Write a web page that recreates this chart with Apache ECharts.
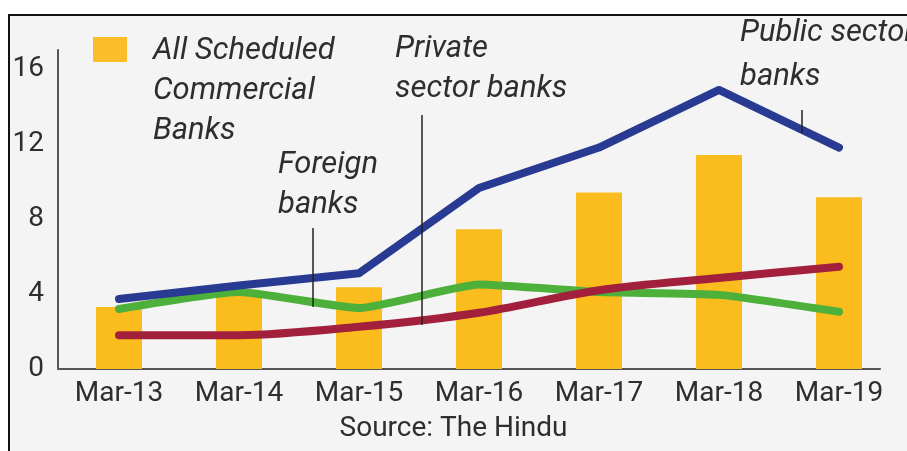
<!DOCTYPE html>
<html>
<head>
<meta charset="utf-8">
<script src="https://cdn.jsdelivr.net/npm/echarts@6/dist/echarts.min.js"></script>
<style>
  html, body { margin: 0; padding: 0; background: #ffffff; }
  #chart { width: 907px; height: 451px; }
</style>
</head>
<body>
<div id="chart"></div>
<script>
// Gross NPA ratio (%) by bank group, March 2013 - March 2019
const categories = ['Mar-13', 'Mar-14', 'Mar-15', 'Mar-16', 'Mar-17', 'Mar-18', 'Mar-19'];
const allScheduled = [3.3, 3.95, 4.35, 7.45, 9.4, 11.4, 9.15];
const publicSector = [3.73, 4.45, 5.1, 9.65, 11.8, 14.87, 11.8];
const foreignBanks = [3.2, 4.1, 3.25, 4.5, 4.1, 3.95, 3.05];
const privateSector = [1.8, 1.8, 2.25, 3.0, 4.2, 4.85, 5.45];
const yTicks = [0, 4, 8, 12, 16];

const FONT = 'Roboto, "Liberation Sans", sans-serif';
const TEXT = '#2e2e2e';
const AXIS = '#555555';

const chart = echarts.init(document.getElementById('chart'), null, { renderer: 'canvas' });

function note(x, y, text, lh) {
  return {
    type: 'text', left: x, top: y, z: 20,
    style: {
      text: text, fill: TEXT, font: 'italic 31px ' + FONT,
      lineHeight: lh || 40
    }
  };
}
function leader(x, y1, y2) {
  return {
    type: 'line', z: 20,
    shape: { x1: x, y1: y1, x2: x, y2: y2 },
    style: { stroke: '#222222', lineWidth: 1.5 }
  };
}

chart.setOption({
  animation: false,
  backgroundColor: 'transparent',
  grid: [
    { left: 59, right: 8, top: 50, bottom: 82 },
    { left: 58, right: 27, top: 50, bottom: 82 }
  ],
  xAxis: [
    {
      type: 'category', data: categories, gridIndex: 0,
      axisLine: { show: false }, axisTick: { show: false },
      axisLabel: { color: TEXT, fontFamily: FONT, fontSize: 28, margin: 11 }
    },
    {
      type: 'value', gridIndex: 1, min: 0, max: 1,
      axisLine: { show: true, lineStyle: { color: AXIS, width: 2 } },
      axisTick: { show: false }, axisLabel: { show: false }, splitLine: { show: false }
    }
  ],
  yAxis: [
    {
      type: 'value', gridIndex: 0, min: 0, max: 17, interval: 4,
      axisLine: { show: false }, axisTick: { show: false }, splitLine: { show: false },
      axisLabel: {
        color: TEXT, fontFamily: FONT, fontSize: 28, margin: 15,
        formatter: v => (yTicks.indexOf(v) >= 0 ? String(v) : '')
      }
    },
    {
      type: 'value', gridIndex: 1, min: 0, max: 1,
      axisLine: { show: true, lineStyle: { color: AXIS, width: 2 } },
      axisTick: { show: false }, axisLabel: { show: false }, splitLine: { show: false }
    }
  ],
  series: [
    {
      name: 'All Scheduled Commercial Banks', type: 'bar', data: allScheduled,
      barWidth: 46, itemStyle: { color: '#fbbd1e' }, z: 2
    },
    {
      name: 'Foreign banks', type: 'line', data: foreignBanks, smooth: 0.15,
      showSymbol: false, z: 3,
      lineStyle: { color: '#4cb03a', width: 8, cap: 'round', join: 'round' }
    },
    {
      name: 'Private sector banks', type: 'line', data: privateSector, smooth: 0.3,
      showSymbol: false, z: 4,
      lineStyle: { color: '#a3203c', width: 8, cap: 'round', join: 'round' }
    },
    {
      name: 'Public sector banks', type: 'line', data: publicSector,
      showSymbol: false, z: 5,
      lineStyle: { color: '#283a92', width: 8, cap: 'round', join: 'round' }
    }
  ],
  graphic: [
    // panel with frame (right and bottom edges run off the page)
    {
      type: 'rect', z: -10, silent: true,
      shape: { x: 9, y: 15, width: 920, height: 460 },
      style: { fill: '#f4f4f4', stroke: '#111111', lineWidth: 2 }
    },
    // legend swatch and label
    {
      type: 'rect', z: 20,
      shape: { x: 93, y: 37, width: 34, height: 25 },
      style: { fill: '#fbbd2a' }
    },
    note(153, 31, 'All Scheduled\nCommercial\nBanks'),
    note(278, 145, 'Foreign\nbanks'),
    leader(313, 228, 307),
    note(395, 29, 'Private\nsector banks'),
    leader(422, 115, 325),
    note(740, 11, 'Public sector\nbanks', 44),
    leader(802, 110, 133),
    {
      type: 'text', left: 'center', top: 415, z: 20,
      style: { text: 'Source: The Hindu', fill: TEXT, font: '28px ' + FONT }
    }
  ]
});
</script>
</body>
</html>
